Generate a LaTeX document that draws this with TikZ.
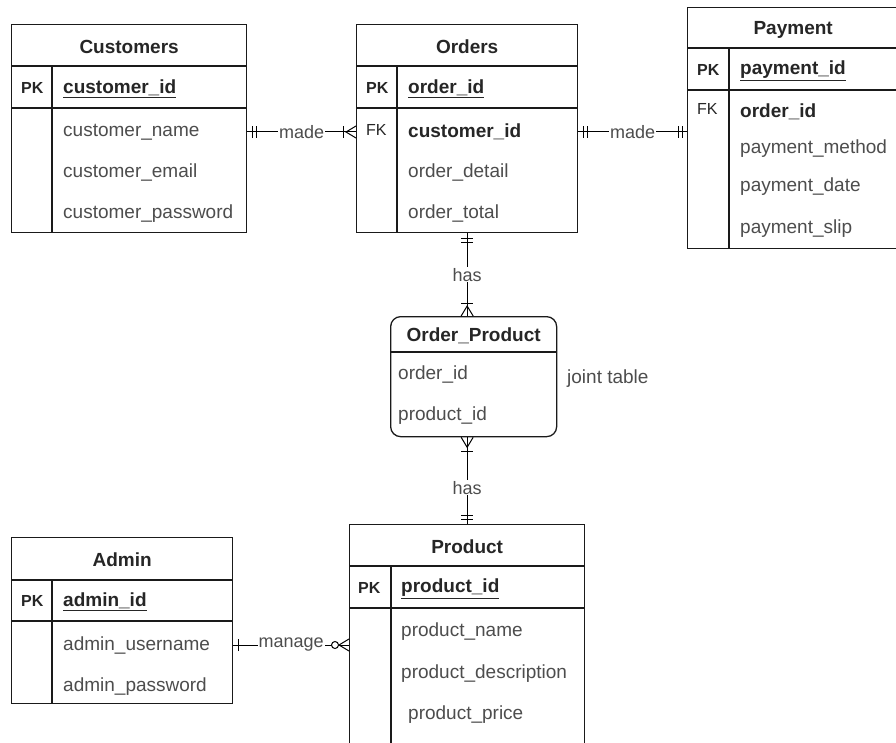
\documentclass[tikz,border=0pt]{standalone}
\usepackage{fontspec}
\setmainfont{Liberation Sans}
\usetikzlibrary{decorations.markings}

\definecolor{fieldgray}{HTML}{4D4D4D}
\definecolor{linegray}{HTML}{1A1A1A}

\begin{document}
\begin{tikzpicture}[x=1pt, y=-1pt,
  tbl/.style={draw=linegray, line width=1.3pt, anchor=north west, inner sep=0pt},
  title/.style={inner sep=0pt, yshift=-2pt, font=\fontsize{19}{22}\selectfont\bfseries, text=black!85},
  fld/.style={anchor=west, inner sep=0pt, yshift=-2pt, font=\fontsize{19}{22}\selectfont, text=fieldgray},
  keyfld/.style={fld, font=\fontsize{19}{22}\selectfont\bfseries, text=black!85},
  key/.style={anchor=west, inner sep=0pt, yshift=-1pt, font=\fontsize{16}{19}\selectfont, text=black!85},
  lbl/.style={fill=white, inner sep=1pt, font=\fontsize{18}{21}\selectfont, text=fieldgray},
  rel/.style={draw=black, line width=1pt},
  mk/.style={postaction={decorate, decoration={markings, #1}}},
  one start/.style={mk={mark=at position 5pt with {\draw[line width=1pt] (0,-6pt) -- (0,6pt);}}},
  mand one start/.style={mk={mark=at position 5pt with {\draw[line width=1pt] (0,-6pt) -- (0,6pt);},
                             mark=at position 9pt with {\draw[line width=1pt] (0,-6pt) -- (0,6pt);}}},
  mand one end/.style={mk={mark=at position -5pt with {\draw[line width=1pt] (0,-6pt) -- (0,6pt);},
                           mark=at position -9pt with {\draw[line width=1pt] (0,-6pt) -- (0,6pt);}}},
  one many start/.style={mk={mark=at position 10pt with {\draw[line width=1pt] (-10pt,6pt) -- (0,0) -- (-10pt,-6pt);},
                             mark=at position 14pt with {\draw[line width=1pt] (0,-6pt) -- (0,6pt);}}},
  one many end/.style={mk={mark=at position -10pt with {\draw[line width=1pt] (10pt,6pt) -- (0,0) -- (10pt,-6pt);},
                           mark=at position -13pt with {\draw[line width=1pt] (0,-6pt) -- (0,6pt);}}},
  zero many end/.style={mk={mark=at position -10pt with {\draw[line width=1pt] (10pt,6pt) -- (0,0) -- (10pt,-6pt);},
                            mark=at position -14pt with {\draw[line width=1pt, fill=white] (0,0) circle (3.5pt);}}}
]
\fill[white] (0,0) rectangle (896,743);
\useasboundingbox (0,0) rectangle (896,743);

% tables
\node[tbl, minimum width=235pt, minimum height=208pt] (cust) at (11,24) {};
\node[tbl, minimum width=221pt, minimum height=208pt] (ord) at (356,24) {};
\node[tbl, minimum width=211pt, minimum height=241pt] (pay) at (687,7) {};
\node[tbl, minimum width=235pt, minimum height=236pt] (prod) at (349,524) {};
\node[tbl, minimum width=221pt, minimum height=166pt] (adm) at (11,537) {};
\node[tbl, rounded corners=10pt, minimum width=166pt, minimum height=120pt] (op) at (390,316) {};

\foreach \t/\h/\k/\d in {cust/42/84/41, ord/42/84/41, pay/41/83/42, prod/42/84/42, adm/43/84/41}{
  \draw[linegray, line width=1.3pt] ([yshift=-\h pt]\t.north west) -- ([yshift=-\h pt]\t.north east);
  \draw[linegray, line width=1.3pt] ([yshift=-\k pt]\t.north west) -- ([yshift=-\k pt]\t.north east);
  \draw[linegray, line width=1.3pt] ([yshift=-\h pt, xshift=\d pt]\t.north west) -- ([xshift=\d pt]\t.south west);
}
\draw[linegray, line width=1.3pt] ([yshift=-36pt]op.north west) -- ([yshift=-36pt]op.north east);

% Customers
\node[title] (custT) at ([yshift=-21pt]cust.north) {Customers};
\node[key, font=\fontsize{16}{19}\selectfont\bfseries] (cpk) at (21,87) {PK};
\node[keyfld] (cid) at (63,87) {\underline{customer\_id}};
\node[fld] (cname) at (63,130) {customer\_name};
\node[fld] (cmail) at (63,171) {customer\_email};
\node[fld] (cpass) at (63,212) {customer\_password};

% Orders
\node[title] (ordT) at ([yshift=-21pt]ord.north) {Orders};
\node[key, font=\fontsize{16}{19}\selectfont\bfseries] (opk) at (366,87) {PK};
\node[keyfld] (oid) at (408,87) {\underline{order\_id}};
\node[key] (ofk) at (366,129) {FK};
\node[keyfld] (ocid) at (408,130) {customer\_id};
\node[fld] (odet) at (408,171) {order\_detail};
\node[fld] (otot) at (408,212) {order\_total};

% Payment
\node[title] (payT) at ([yshift=-20.5pt]pay.north) {Payment};
\node[key, font=\fontsize{16}{19}\selectfont\bfseries] (ppk) at (697,69) {PK};
\node[keyfld] (pid) at (740,69) {\underline{payment\_id}};
\node[key] (pfk) at (697,108) {FK};
\node[keyfld] (poid) at (740,110) {order\_id};
\node[fld] (pmeth) at (740,147) {payment\_method};
\node[fld] (pdate) at (740,185) {payment\_date};
\node[fld] (pslip) at (740,227) {payment\_slip};

% Order_Product
\node[title] (opT) at ([yshift=-18pt]op.north) {Order\_Product};
\node[fld] (opoid) at (398,373) {order\_id};
\node[fld] (oppid) at (398,414) {product\_id};
\node[fld, text=fieldgray] (jt) at (567,377) {joint table};

% Product
\node[title] (prodT) at ([yshift=-21pt]prod.north) {Product};
\node[key, font=\fontsize{16}{19}\selectfont\bfseries] (prpk) at (358,587) {PK};
\node[keyfld] (prid) at (401,587) {\underline{product\_id}};
\node[fld] (prname) at (401,630) {product\_name};
\node[fld] (prdesc) at (401,672) {product\_description};
\node[fld] (prprice) at (408,713) {product\_price};

% Admin
\node[title] (admT) at ([yshift=-21pt]adm.north) {Admin};
\node[key, font=\fontsize{16}{19}\selectfont\bfseries] (apk) at (21,600) {PK};
\node[keyfld] (aid) at (63,600) {\underline{admin\_id}};
\node[fld] (auser) at (63,643) {admin\_username};
\node[fld] (apass) at (63,685) {admin\_password};

% relations
\draw[rel, mand one start, one many end] (cust.east |- cname) -- node[lbl]{made} (ord.west |- cname);
\draw[rel, mand one start, mand one end] (ord.east |- ocid) -- node[lbl]{made} (pay.west |- ocid);
\draw[rel, mand one start, one many end] (ord.south) -- node[lbl]{has} (op.north -| ord.south);
\draw[rel, one many start, mand one end] (op.south -| prod.north) -- node[lbl, pos=.58]{has} (prod.north);
\draw[rel, one start, zero many end] (adm.east |- auser) -- node[lbl]{manage} (prod.west |- auser);
\end{tikzpicture}
\end{document}
